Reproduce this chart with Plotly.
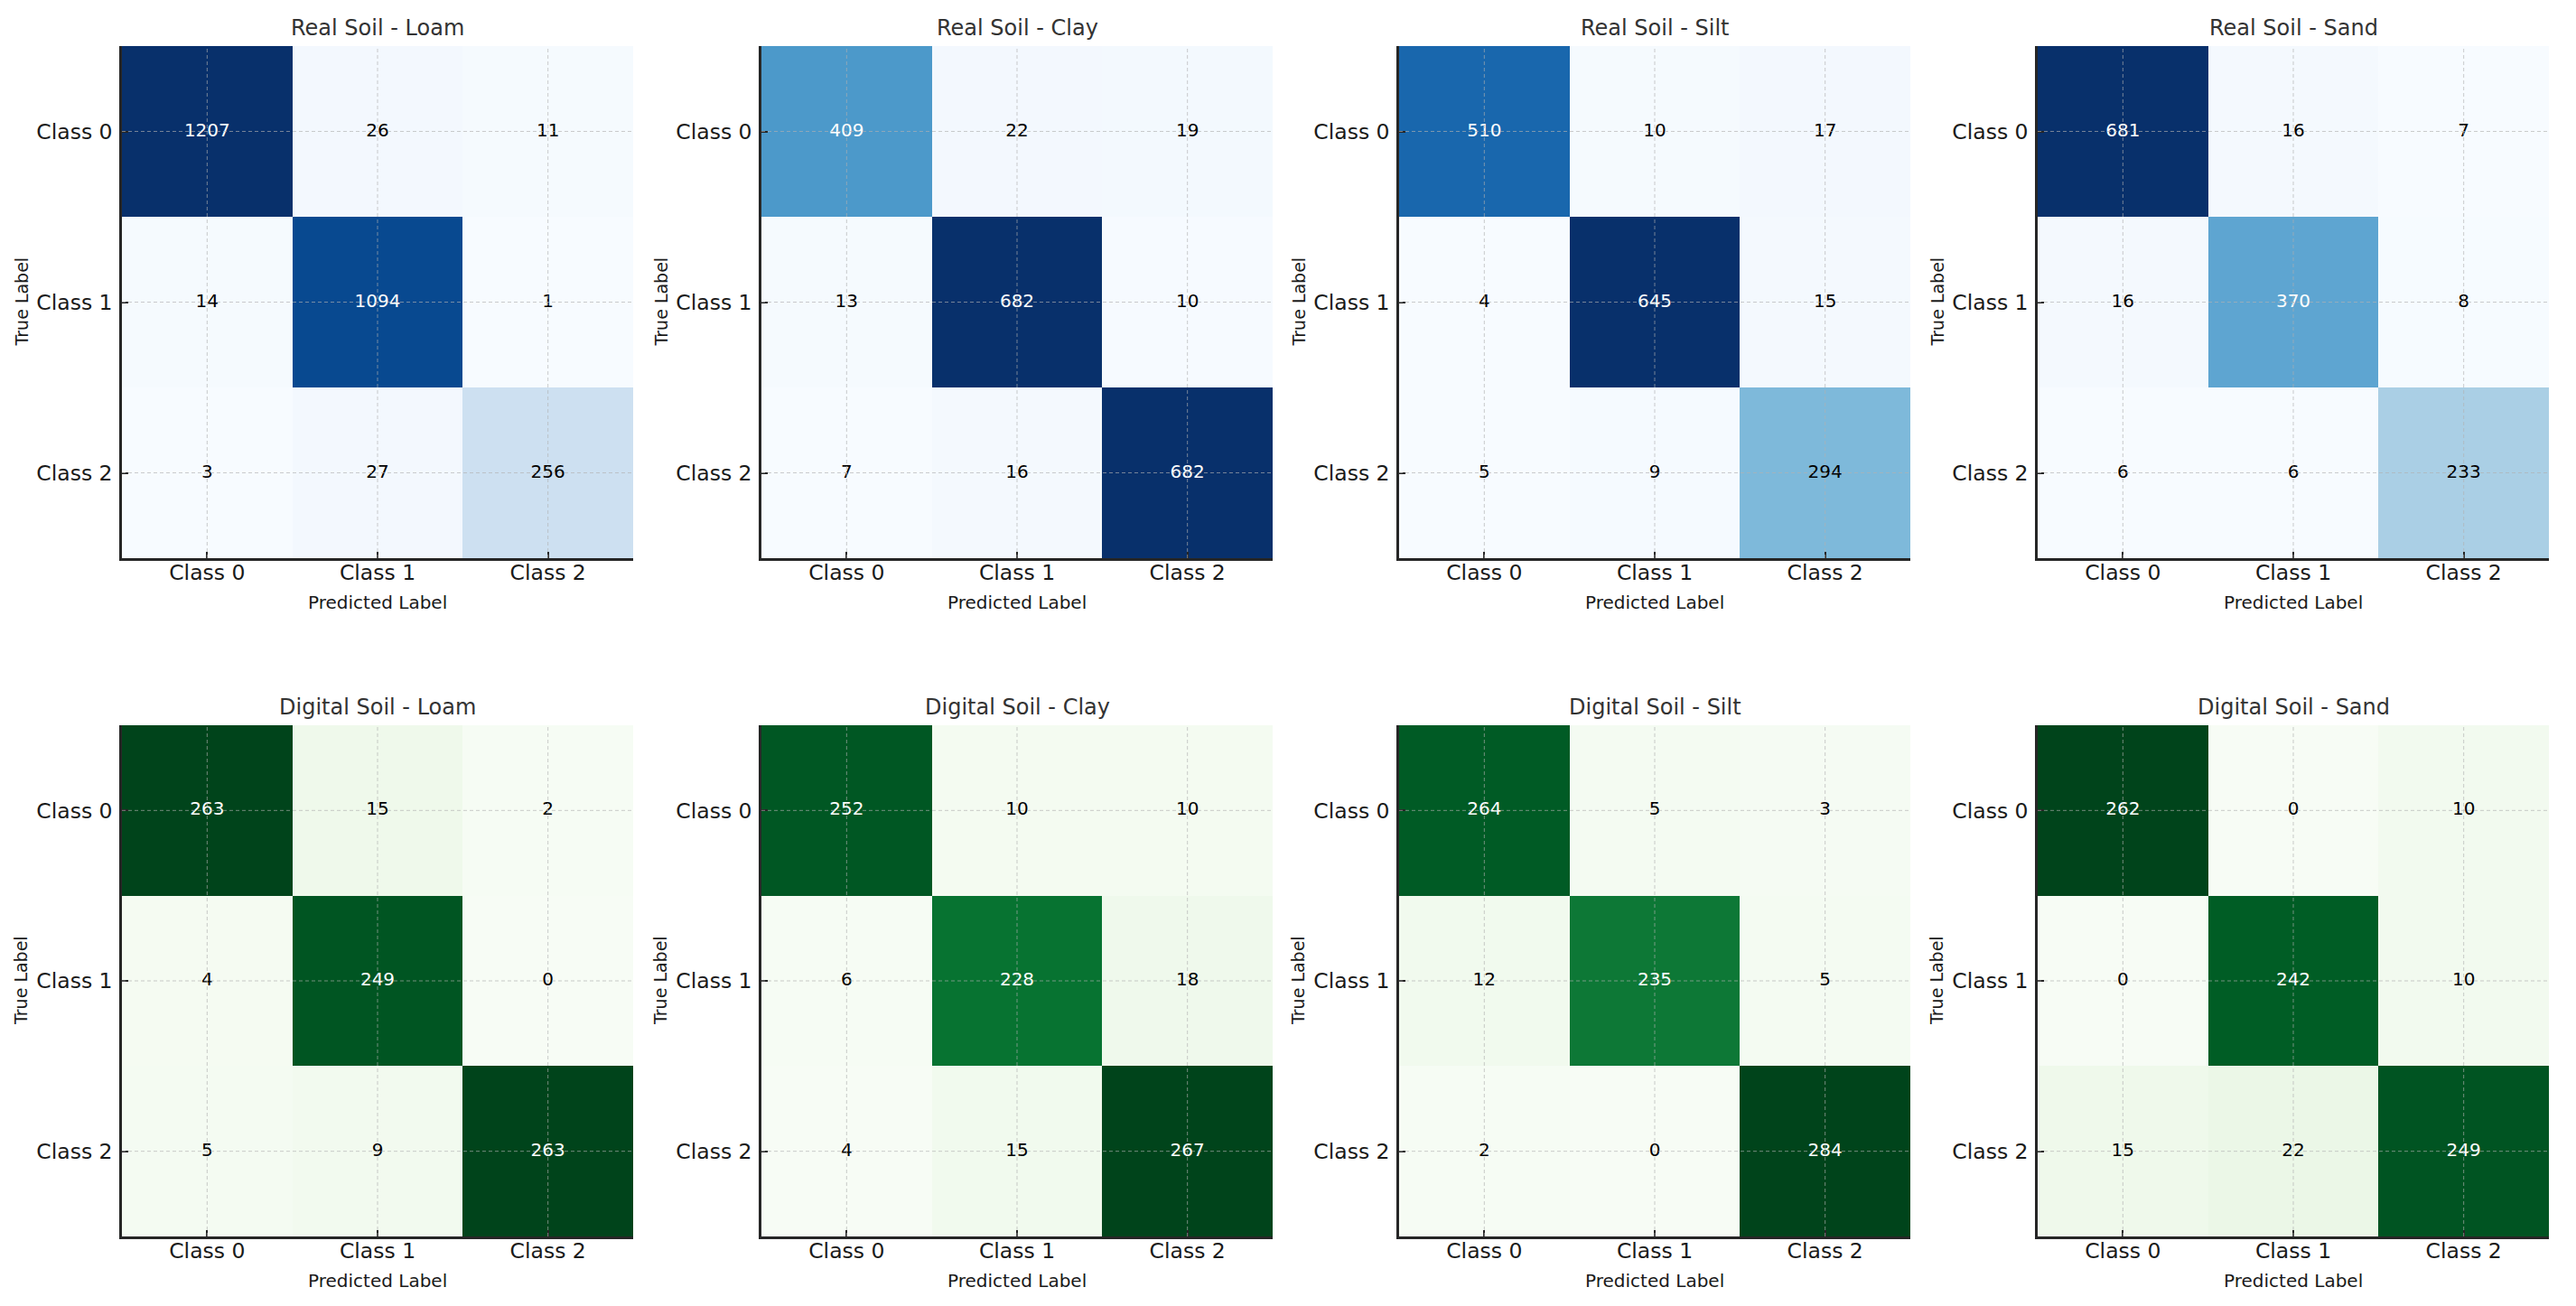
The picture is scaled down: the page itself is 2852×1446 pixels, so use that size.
import plotly.graph_objects as go

# ---------------- data ----------------
classes = ["Class 0", "Class 1", "Class 2"]

titles = [
    "Real Soil - Loam", "Real Soil - Clay", "Real Soil - Silt", "Real Soil - Sand",
    "Digital Soil - Loam", "Digital Soil - Clay", "Digital Soil - Silt", "Digital Soil - Sand",
]

real_loam = [[1207, 26, 11], [14, 1094, 1], [3, 27, 256]]
real_clay = [[409, 22, 19], [13, 682, 10], [7, 16, 682]]
real_silt = [[510, 10, 17], [4, 645, 15], [5, 9, 294]]
real_sand = [[681, 16, 7], [16, 370, 8], [6, 6, 233]]
digital_loam = [[263, 15, 2], [4, 249, 0], [5, 9, 263]]
digital_clay = [[252, 10, 10], [6, 228, 18], [4, 15, 267]]
digital_silt = [[264, 5, 3], [12, 235, 5], [2, 0, 284]]
digital_sand = [[262, 0, 10], [0, 242, 10], [15, 22, 249]]

matrices = [real_loam, real_clay, real_silt, real_sand,
            digital_loam, digital_clay, digital_silt, digital_sand]

# ---------------- styling ----------------
BLUES = ["#f7fbff", "#deebf7", "#c6dbef", "#9ecae1", "#6baed6",
         "#4292c6", "#2171b5", "#08519c", "#08306b"]
GREENS = ["#f7fcf5", "#e5f5e0", "#c7e9c0", "#a1d99b", "#74c476",
          "#41ab5d", "#238b45", "#006d2c", "#00441b"]


def scale(cols):
    n = len(cols) - 1
    return [[i / n, c] for i, c in enumerate(cols)]


W, H = 2852, 1446
FONT = "DejaVu Sans"
x_px = [(135, 701), (843, 1409), (1549, 2115), (2256, 2822)]
y_px = [(51, 618), (803, 1369)]

fig = go.Figure()
annotations = []
shapes = []

for k, (title, mat) in enumerate(zip(titles, matrices)):
    idx = k + 1
    sfx = "" if idx == 1 else str(idx)
    row, col = divmod(k, 4)
    xd = [x_px[col][0] / W, x_px[col][1] / W]
    yd = [1 - y_px[row][1] / H, 1 - y_px[row][0] / H]
    cs = scale(BLUES if row == 0 else GREENS)
    flat = [v for r in mat for v in r]
    zmin, zmax = min(flat), max(flat)
    thresh = zmax / 2.0

    n = len(classes)
    fig.add_trace(go.Heatmap(
        z=mat, x=list(range(n)), y=list(range(n)),
        colorscale=cs, zmin=zmin, zmax=zmax, showscale=False,
        hoverinfo="skip", xaxis="x" + sfx, yaxis="y" + sfx,
    ))
    tx, ty, tt, tc = [], [], [], []
    for i in range(n):
        for j in range(n):
            tx.append(j)
            ty.append(i)
            tt.append(str(mat[i][j]))
            tc.append("white" if mat[i][j] > thresh else "black")
    fig.add_trace(go.Scatter(
        x=tx, y=ty, text=tt, mode="text",
        textfont=dict(family=FONT, size=20, color=tc),
        hoverinfo="skip", showlegend=False,
        xaxis="x" + sfx, yaxis="y" + sfx,
    ))

    common = dict(
        tickmode="array", tickvals=list(range(n)), ticktext=classes,
        showgrid=False, zeroline=False,
        showline=True, linecolor="#262626", linewidth=2.5, mirror=False,
        ticks="inside", ticklen=7, tickwidth=2, tickcolor="#262626",
        tickfont=dict(family=FONT, size=23.5, color="#1a1a1a"),
        fixedrange=True,
    )
    fig.layout["xaxis" + sfx] = dict(
        common, domain=xd, range=[-0.5, n - 0.5], anchor="y" + sfx,
        side="bottom", ticklabelstandoff=-7,
    )
    fig.layout["yaxis" + sfx] = dict(
        common, domain=yd, range=[n - 0.5, -0.5], anchor="x" + sfx,
        side="left", ticklabelstandoff=3,
    )

    # dashed grid drawn above the cells (matplotlib grid on top of image)
    for i in range(n):
        shapes.append(dict(type="line", xref="x" + sfx, yref="y" + sfx + " domain",
                           x0=i, x1=i, y0=0, y1=1, layer="above",
                           line=dict(color="rgba(176,176,176,0.65)", width=1, dash="4px,3px")))
        shapes.append(dict(type="line", xref="x" + sfx + " domain", yref="y" + sfx,
                           x0=0, x1=1, y0=i, y1=i, layer="above",
                           line=dict(color="rgba(176,176,176,0.65)", width=1, dash="4px,3px")))

    xc = (xd[0] + xd[1]) / 2
    yc = (yd[0] + yd[1]) / 2
    annotations.append(dict(text=title, xref="paper", yref="paper", x=xc, y=yd[1],
                            xanchor="center", yanchor="bottom", yshift=4, showarrow=False,
                            font=dict(family=FONT, size=24, color="#333333")))
    annotations.append(dict(text="Predicted Label", xref="paper", yref="paper", x=xc, y=yd[0],
                            xanchor="center", yanchor="top", yshift=-35, showarrow=False,
                            font=dict(family=FONT, size=20, color="#1a1a1a")))
    annotations.append(dict(text="True Label", xref="paper", yref="paper", x=xd[0], y=yc,
                            xanchor="center", yanchor="middle", xshift=-112, textangle=-90,
                            showarrow=False,
                            font=dict(family=FONT, size=19, color="#1a1a1a")))

fig.update_layout(
    width=W, height=H, margin=dict(l=0, r=0, t=0, b=0),
    paper_bgcolor="white", plot_bgcolor="white",
    showlegend=False, annotations=annotations, shapes=shapes,
    font=dict(family=FONT),
)

fig.write_html("out.html", config={"displayModeBar": False},
               post_script="document.body.style.margin='0';")
